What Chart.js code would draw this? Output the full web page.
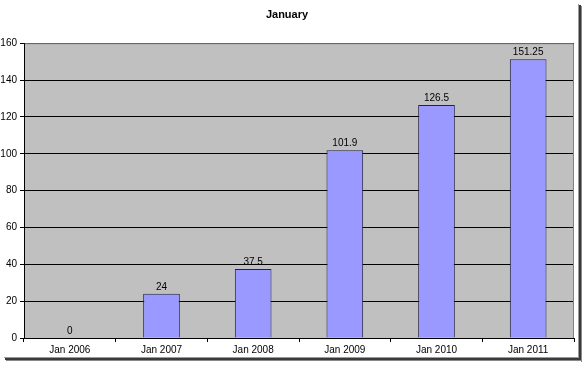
<!DOCTYPE html>
<html>
<head>
<meta charset="utf-8">
<script src="https://cdn.jsdelivr.net/npm/chart.js@4/dist/chart.umd.min.js"></script>
<style>
html,body{margin:0;padding:0;background:#fff;}
#wrap{position:relative;width:585px;height:365px;}
</style>
</head>
<body>
<div id="wrap"><canvas id="c" width="585" height="365"></canvas></div>
<script>
const categories = ["Jan 2006","Jan 2007","Jan 2008","Jan 2009","Jan 2010","Jan 2011"];
const values = [0, 24, 37.5, 101.9, 126.5, 151.25];
const valueLabels = ["0","24","37.5","101.9","126.5","151.25"];
const titleText = "January";

const FONT = "'Liberation Sans', Arial, sans-serif";

const bgPlugin = {
  id: 'bg',
  beforeDraw(chart) {
    const {ctx, chartArea: a} = chart;
    ctx.save();
    ctx.fillStyle = '#fff';
    ctx.fillRect(0,0,chart.width,chart.height);
    ctx.fillStyle = '#C0C0C0';
    ctx.fillRect(a.left, a.top, a.right - a.left, a.bottom - a.top);
    // frame shadow
    ctx.fillStyle = '#9a9a9a';
    ctx.fillRect(578, 4, 1, 356);
    ctx.fillRect(4, 357, 575, 1);
    ctx.fillStyle = '#3a3a3a';
    ctx.fillRect(579, 5, 2, 356);
    ctx.fillRect(5, 358, 576, 2);
    ctx.fillStyle = '#8a8a8a';
    ctx.fillRect(581, 6, 1, 356);
    ctx.fillRect(6, 360, 576, 1);
    ctx.restore();
  },
  afterDatasetsDraw(chart) {
    const {ctx, chartArea: a} = chart;
    ctx.save();
    // plot border top/right gray
    ctx.strokeStyle = '#808080';
    ctx.lineWidth = 1;
    ctx.beginPath();
    ctx.moveTo(a.left, a.top + 0.5);
    ctx.lineTo(a.right - 0.5, a.top + 0.5);
    ctx.lineTo(a.right - 0.5, a.bottom);
    ctx.stroke();
    // axes black
    ctx.strokeStyle = '#000';
    ctx.beginPath();
    ctx.moveTo(a.left + 0.5, a.top);
    ctx.lineTo(a.left + 0.5, a.bottom);
    ctx.moveTo(a.left, a.bottom + 0.5);
    ctx.lineTo(a.right, a.bottom + 0.5);
    ctx.stroke();
    // value labels
    const meta = chart.getDatasetMeta(0);
    ctx.fillStyle = '#000';
    ctx.font = '10px ' + FONT;
    ctx.textAlign = 'center';
    ctx.textBaseline = 'bottom';
    meta.data.forEach((bar, i) => {
      ctx.fillText(valueLabels[i], bar.x, bar.y - 2);
    });
    ctx.restore();
  }
};

new Chart(document.getElementById('c'), {
  type: 'bar',
  data: {
    labels: categories,
    datasets: [{
      data: values,
      backgroundColor: '#9999FF',
      borderColor: '#222244',
      borderWidth: 1,
      borderSkipped: 'bottom',
      categoryPercentage: 1.0,
      barPercentage: 0.4
    }]
  },
  options: {
    responsive: false,
    animation: false,
    devicePixelRatio: 1,
    layout: { padding: { left: 0, right: 11, top: 0, bottom: 0 } },
    plugins: {
      legend: { display: false },
      tooltip: { enabled: false },
      title: {
        display: true,
        text: titleText,
        color: '#000',
        font: { family: FONT, size: 11, weight: 'bold' },
        padding: { top: 8, bottom: 22 }
      }
    },
    scales: {
      x: {
        offset: true,
        grid: { display: true, offset: true, drawOnChartArea: false, color: '#000', tickLength: 4, tickColor: '#000' },
        border: { display: false },
        ticks: { color: '#000', font: { family: FONT, size: 10 }, padding: 2, maxRotation: 0 },
        afterFit(s) { s.height = 27; }
      },
      y: {
        min: 0, max: 160,
        grid: { color: '#000', tickLength: 4, tickColor: '#000', drawOnChartArea: true },
        border: { display: false },
        ticks: { stepSize: 20, color: '#000', font: { family: FONT, size: 10 }, padding: 3 },
        afterFit(s) { s.width = 24; }
      }
    }
  },
  plugins: [bgPlugin]
});
</script>
</body>
</html>
